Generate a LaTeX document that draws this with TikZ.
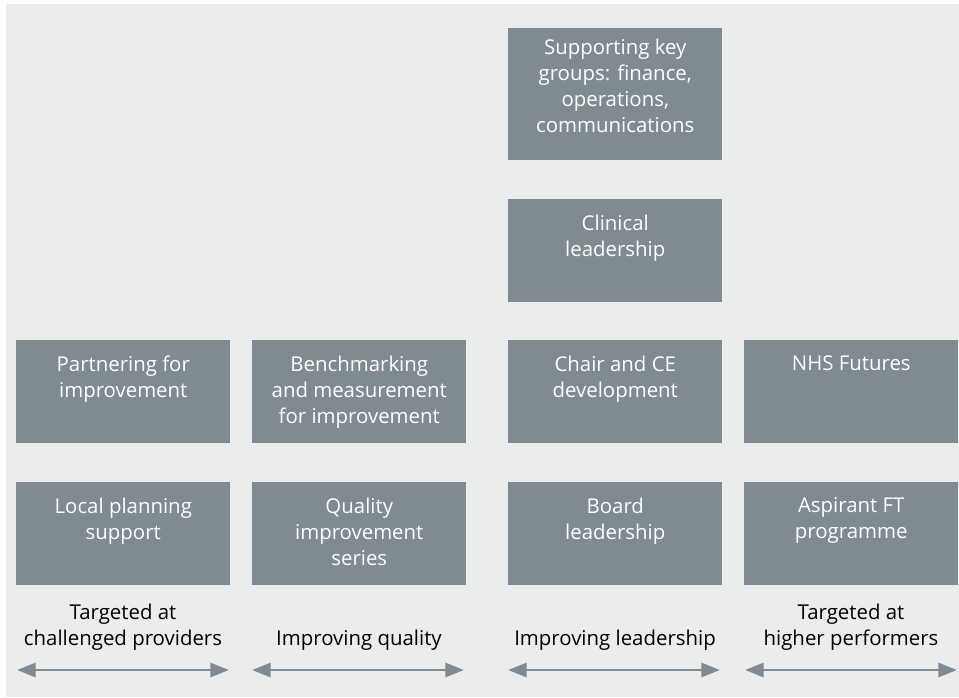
\documentclass[tikz,border=0pt]{standalone}
\usepackage{fontspec}
\setmainfont{Open Sans}
\usetikzlibrary{arrows.meta}
\definecolor{boxgray}{RGB}{128,138,145}
\definecolor{bggray}{RGB}{235,236,236}

\begin{document}
\begin{tikzpicture}[x=0.75pt,y=-0.75pt,
font=\fontsize{15.3}{19.5}\selectfont,
b/.style={
fill=boxgray,
anchor=north west,
minimum width=160.5pt,
minimum height=77.25pt,
inner sep=0pt},
bt/.style={b,minimum height=99pt},
t/.style={anchor=north,align=center,text=white,inner sep=0pt},
lab/.style={anchor=south,align=center,inner sep=0pt},
arr/.style={line width=2.2pt,boxgray,
{Triangle[length=14pt,width=10.5pt]}-{Triangle[length=14pt,width=10.5pt]}},
]
\useasboundingbox(0,0)rectangle(959,697);
\fill[white](0,0)rectangle(959,697);
\fill[bggray](6,4)rectangle(959,697);
%Leadership column, upper boxes
\node[bt](kg)at(508,28){};
\node[t]at([yshift=-8pt]kg.north){Supporting key\\groups: finance,\\operations,\\communications};
\node[b](cl)at(508,199){};
\node[t]at([yshift=-11.5pt]cl.north){Clinical\\leadership};
%%Row 3
\node[b](pfi)at(16,340){};
\node[t]at([yshift=-11.5pt]pfi.north){Partnering for\\improvement};
\node[b](bmi)at(252,340){};
\node[t]at([yshift=-11.5pt]bmi.north){Benchmarking\\and measurement\\for improvement};
\node[b](cce)at(508,340){};
\node[t]at([yshift=-11.5pt]cce.north){Chair and CE\\development};
\node[b](nhs)at(744,340){};
\node[t]at([yshift=-11.5pt]nhs.north){NHS Futures};
%%Row 4
\node[b](lps)at(16,482){};
\node[t]at([yshift=-11.5pt]lps.north){Local planning\\support};
\node[b](qis)at(252,482){};
\node[t]at([yshift=-11.5pt]qis.north){Quality\\improvement\\series};
\node[b](bl)at(508,482){};
\node[t]at([yshift=-11.5pt]bl.north){Board\\leadership};
\node[b](aft)at(744,482){};
\node[t]at([yshift=-11.5pt]aft.north){Aspirant FT\\programme};
%% Labels
\node[lab](l1)at(123,651){Targeted at\\challenged providers};
\node[lab](l2)at(359,651){Improving quality};
\node[lab](l3)at(615,651){Improving leadership};
\node[lab](l4)at(851,651){Targeted at\\higher performers};
%% Arrows
\coordinate(a1)at(17,670);\coordinate(b1)at(229,670);
\coordinate(a2)at(252,670);\coordinate(b2)at(464,670);
\coordinate(a3)at(508,670);\coordinate(b3)at(720,670);
\coordinate(a4)at(745,670);\coordinate(b4)at(957,670);
\draw[arr](a1)--(b1);
\draw[arr](a2)--(b2);
\draw[arr](a3)--(b3);
\draw[arr](a4)--(b4);
\end{tikzpicture}
\end{document}
